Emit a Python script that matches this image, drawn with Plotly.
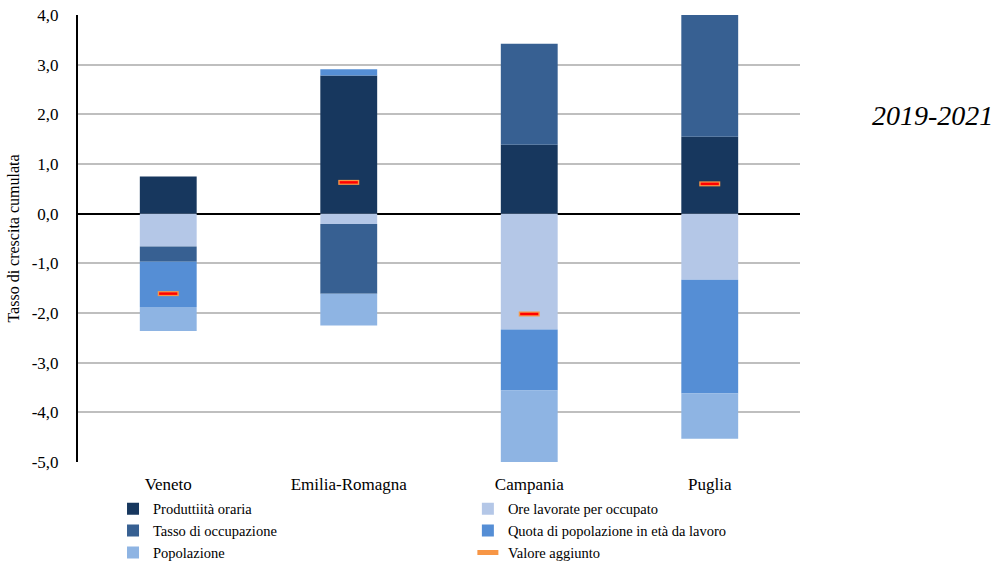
import plotly.graph_objects as go

regions = ["Veneto", "Emilia-Romagna", "Campania", "Puglia"]
produttivita = [0.75, 2.78, 1.39, 1.55]
ore_lavorate = [-0.66, -0.21, -2.33, -1.33]
tasso_occ = [-0.31, -1.40, 2.03, 3.58]
quota_pop = [-0.91, 0.13, -1.23, -2.29]
popolazione = [-0.48, -0.64, -1.88, -0.91]
valore_agg = [-1.61, 0.63, -2.02, 0.60]

y_ticks = [4, 3, 2, 1, 0, -1, -2, -3, -4, -5]
y_tick_labels = ["4,0", "3,0", "2,0", "1,0", "0,0", "-1,0", "-2,0", "-3,0", "-4,0", "-5,0"]

series = [
    ("Produttiità oraria", produttivita, "#17375E", "legend"),
    ("Ore lavorate per occupato", ore_lavorate, "#B4C7E7", "legend2"),
    ("Tasso di occupazione", tasso_occ, "#376092", "legend"),
    ("Quota di popolazione in età da lavoro", quota_pop, "#558ED5", "legend2"),
    ("Popolazione", popolazione, "#8EB4E3", "legend"),
]

FONT = "Liberation Serif"
fig = go.Figure()
for name, vals, col, lg in series:
    fig.add_trace(go.Bar(x=regions, y=vals, name=name, legend=lg,
                         marker=dict(color=col, line=dict(width=0))))

fig.add_trace(go.Scatter(
    x=regions, y=valore_agg, mode="markers", name="Valore aggiunto", legend="legend2",
    marker=dict(symbol="line-ew", size=15, line=dict(width=5, color="#F79646")),
))
fig.add_trace(go.Scatter(
    x=regions, y=valore_agg, mode="markers", showlegend=False, hoverinfo="skip",
    marker=dict(symbol="line-ew", size=13, line=dict(width=2.5, color="#FF0000")),
))

legend_common = dict(
    orientation="v", yanchor="top", xanchor="left", y=-0.069,
    font=dict(family=FONT, size=14.5, color="#000000"),
    itemwidth=30, tracegroupgap=0, traceorder="normal",
    bgcolor="rgba(0,0,0,0)",
)

fig.update_layout(
    width=998, height=561,
    margin=dict(l=78, r=198, t=15, b=99, autoexpand=False),
    barmode="relative", bargap=0.685,
    plot_bgcolor="white", paper_bgcolor="white",
    font=dict(family=FONT, size=16, color="#000000"),
    showlegend=True,
    legend=dict(x=0.0485, **legend_common),
    legend2=dict(x=0.54, **legend_common),
    annotations=[dict(
        text="<i>2019-2021</i>", x=1.183, y=0.776, xref="paper", yref="paper",
        showarrow=False, font=dict(family=FONT, size=28, color="#000000"),
        xanchor="center", yanchor="middle",
    )],
)
fig.update_yaxes(
    range=[-5, 4], tickvals=y_ticks, ticktext=y_tick_labels,
    showgrid=True, gridcolor="#BFBFBF", gridwidth=1.5,
    zeroline=True, zerolinecolor="#000000", zerolinewidth=2,
    showline=True, linecolor="#000000", linewidth=2,
    ticks="", ticklen=0, ticklabelstandoff=14,
    title=dict(text="Tasso di crescita cumulata", font=dict(family=FONT, size=16), standoff=8),
    tickfont=dict(family=FONT, size=17, color="#000000"),
)
fig.update_xaxes(
    showline=False, ticks="", ticklabelstandoff=10,
    tickfont=dict(family=FONT, size=17, color="#000000"),
)

fig.write_html("out.html")
